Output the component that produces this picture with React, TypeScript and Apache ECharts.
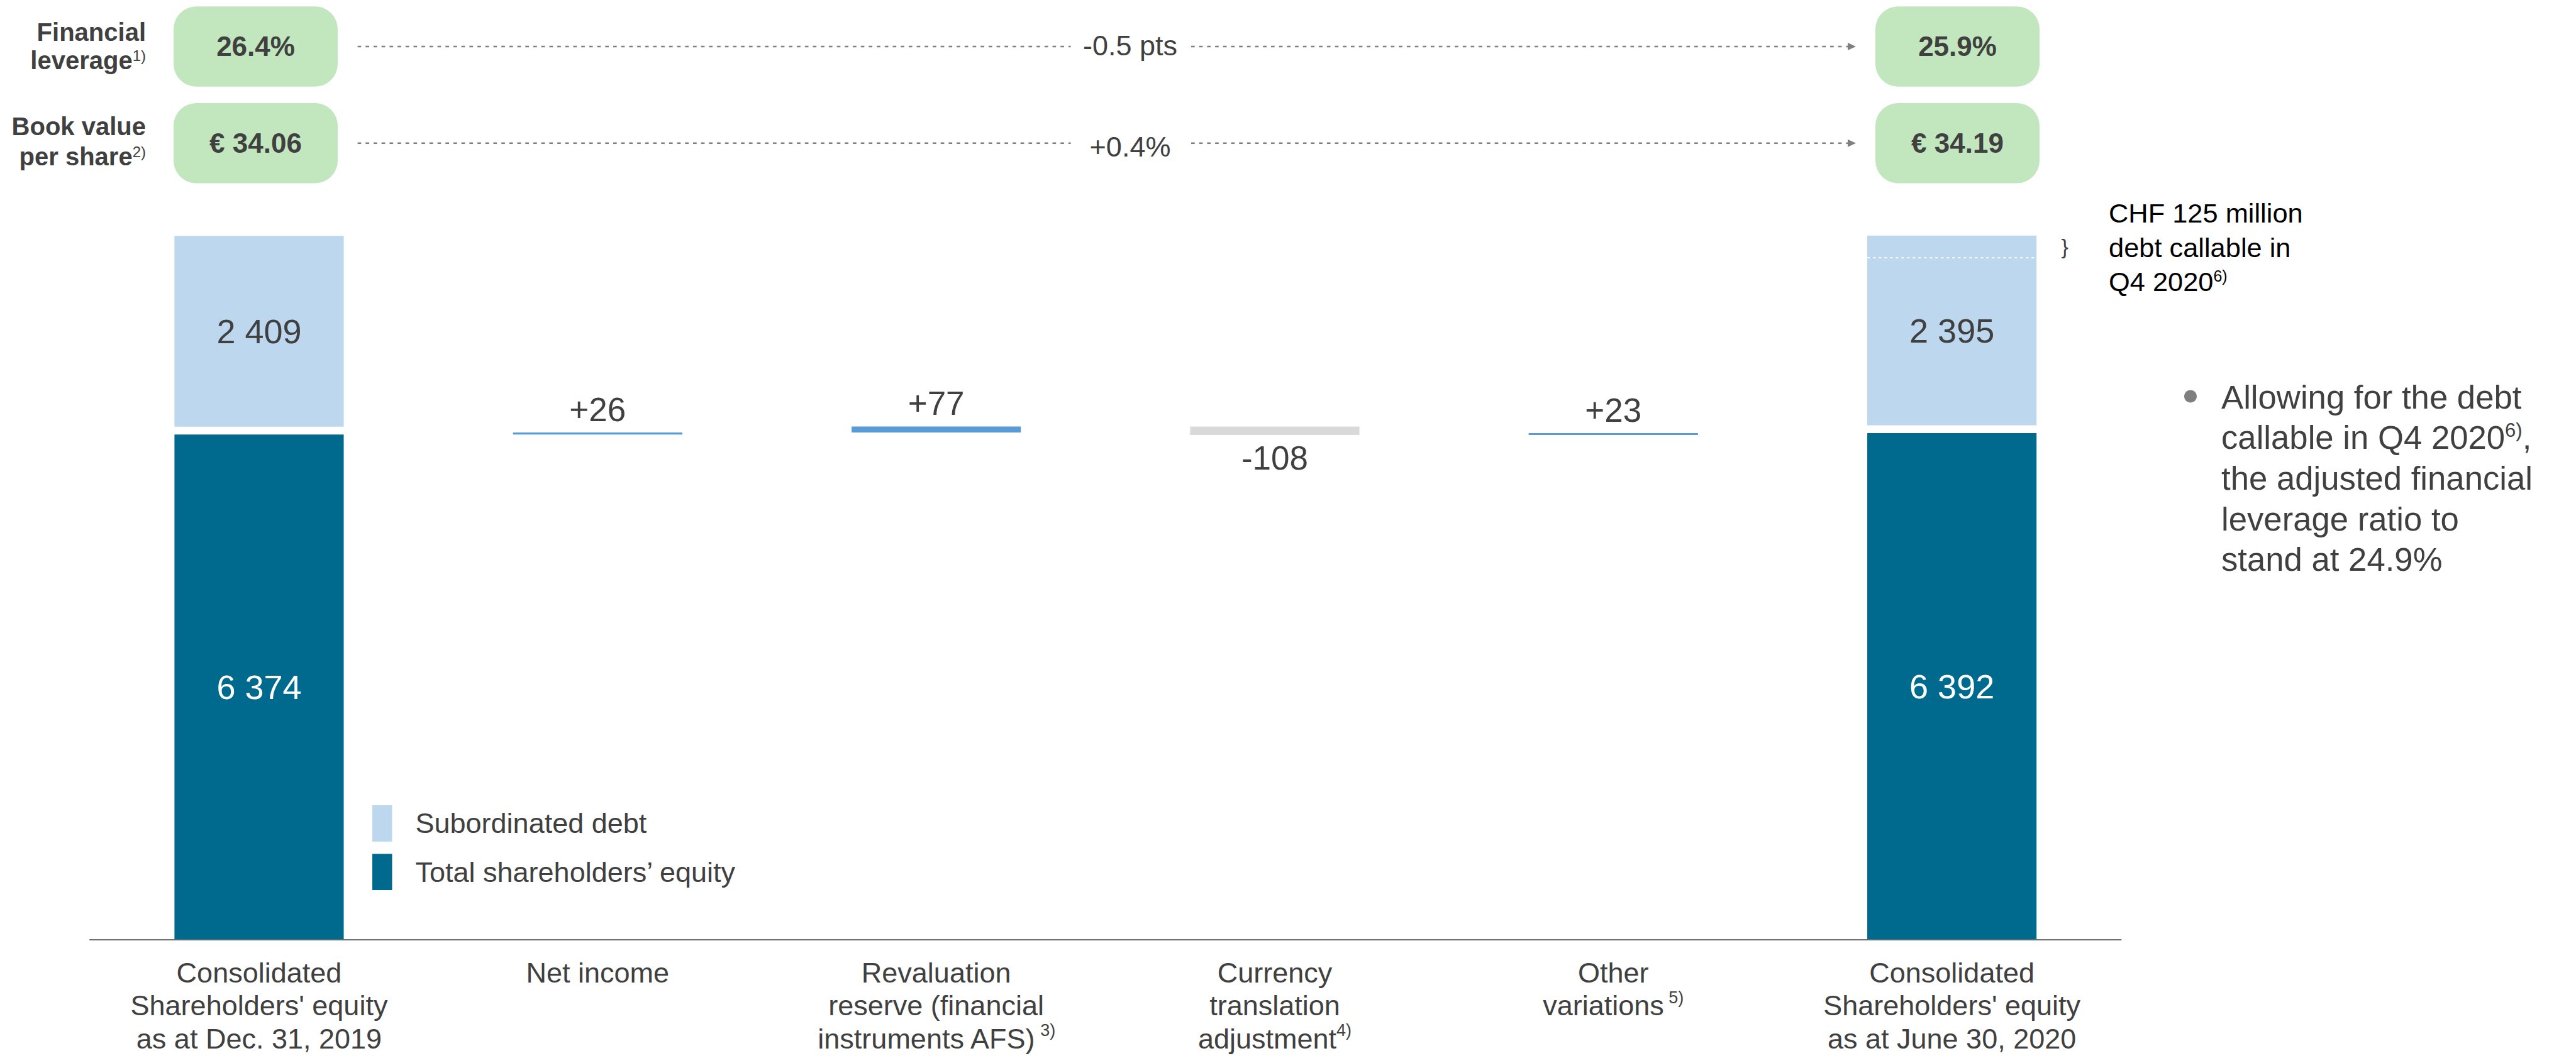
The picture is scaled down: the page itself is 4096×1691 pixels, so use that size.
import React, { useEffect, useRef } from 'react';
import * as echarts from 'echarts';

// ---- data (EUR million) ----
const categories = [
  "Consolidated\nShareholders' equity\nas at Dec. 31, 2019",
  'Net income',
  'Revaluation\nreserve (financial\ninstruments AFS)',
  'Currency\ntranslation\nadjustment',
  'Other\nvariations',
  "Consolidated\nShareholders' equity\nas at June 30, 2020",
];
const categoryNotes = ['', '', ' 3)', '4)', ' 5)', ''];

const equityValues = [6374, null, null, null, null, 6392];
const debtValues = [2409, null, null, null, null, 2395];
const changeValues = [null, 26, 77, -108, 23, null];

const debtName = 'Subordinated debt';
const equityName = 'Total shareholders\u2019 equity';

// headline ratios
const kpiTitles = [
  ['Financial', 'leverage'],
  ['Book value', 'per share'],
];
const kpiNotes = ['1)', '2)'];
const kpiOpening = ['26.4%', '\u20ac 34.06'];
const kpiClosing = ['25.9%', '\u20ac 34.19'];
const kpiDelta = ['-0.5 pts', '+0.4%'];

// side notes
const calloutLines = ['CHF 125 million', 'debt callable in', 'Q4 2020'];
const calloutNote = '6)';
const bulletLines = [
  'Allowing for the debt',
  'callable in Q4 2020',
  'the adjusted financial',
  'leverage ratio to',
  'stand at 24.9%',
];
// portion of the closing debt block marked as callable (axis units)
const callablePortion = 280;

// ---- styling ----
const FONT = '"Liberation Sans", Arial, Helvetica, sans-serif';
const TEXT = '#404040';
const DARK = '#006a8e';
const LIGHT = '#bdd7ee';
const UP = '#5b9bd5';
const DOWN = '#d9d9d9';
const PILL = '#c2e7bf';
const DASH = '#7f7f7f';
const STACK_GAP = 100; // white gap between the equity and debt blocks
const Y_MAX = 10000;

const fmt = (v: number) => String(v).replace(/\B(?=(\d{3})+(?!\d))/g, ' ');

function buildWaterfall() {
  const bases: any[] = [];
  const deltas: any[] = [];
  let running = equityValues[0] as number;
  changeValues.forEach((c) => {
    if (c == null) {
      bases.push('-');
      deltas.push('-');
      return;
    }
    bases.push(c >= 0 ? running : running + c);
    deltas.push({
      value: Math.abs(c),
      change: c,
      itemStyle: { color: c >= 0 ? UP : DOWN },
      label: { position: c >= 0 ? 'top' : 'bottom' },
    });
    running += c;
  });
  return { bases, deltas };
}

function txt(x: number, y: number, text: string, extra: any = {}, rich?: any) {
  const align = extra.align || 'left';
  const style: any = {
    text,
    x: 0,
    y: 0,
    fill: extra.fill || TEXT,
    fontFamily: FONT,
    fontSize: extra.fontSize || 45,
    fontWeight: extra.fontWeight || 'normal',
    align,
    textAlign: align,
    verticalAlign: 'middle',
    textVerticalAlign: 'middle',
  };
  if (rich) style.rich = rich;
  return { type: 'text', x, y, z: 50, silent: true, style };
}

function staticGraphics() {
  const g: any[] = [];
  const pillTops = [10.2, 164];
  const pillH = 127.5;
  const titleY = [
    [50.7, 96],
    [200.6, 249],
  ];
  const deltaY = [72.7, 233];
  const supRich = (size: number, lh: number, fill = TEXT) => ({
    sup: { fontSize: size, lineHeight: lh, verticalAlign: 'top', fill, fontFamily: FONT },
  });

  kpiTitles.forEach((lines, i) => {
    const top = pillTops[i];
    const cy = top + pillH / 2;
    g.push(txt(232, titleY[i][0], lines[0], { align: 'right', fontSize: 40, fontWeight: 'bold' }));
    g.push(
      txt(
        232,
        titleY[i][1],
        `${lines[1]}{sup|${kpiNotes[i]}}`,
        { align: 'right', fontSize: 40, fontWeight: 'bold' },
        supRich(24, 24)
      )
    );
    // value pills
    [
      [276, kpiOpening[i]],
      [2982, kpiClosing[i]],
    ].forEach(([x, label]) => {
      g.push({
        type: 'rect',
        z: 40,
        silent: true,
        shape: { x: x as number, y: top, width: 261, height: pillH, r: 36 },
        style: { fill: PILL },
      });
      g.push(
        txt((x as number) + 130.5, cy, label as string, {
          align: 'center',
          fontSize: 44,
          fontWeight: 'bold',
        })
      );
    });
    // dotted connector with arrow
    const lineStyle = { stroke: DASH, lineWidth: 2.5, lineDash: [5.7, 7] };
    g.push({ type: 'line', z: 40, silent: true, shape: { x1: 568.6, y1: cy, x2: 1702.6, y2: cy }, style: lineStyle });
    g.push({ type: 'line', z: 40, silent: true, shape: { x1: 1894, y1: cy, x2: 2939, y2: cy }, style: lineStyle });
    g.push({
      type: 'polygon',
      z: 40,
      silent: true,
      shape: { points: [[2938, cy - 6], [2951, cy], [2938, cy + 6]] },
      style: { fill: DASH },
    });
    g.push(txt(1797, deltaY[i], kpiDelta[i], { align: 'center', fontSize: 45 }));
  });

  // callable-debt callout
  const calloutY = [339.4, 394.4, 448.2];
  calloutLines.forEach((line, i) => {
    const last = i === calloutLines.length - 1;
    g.push(
      txt(3353, calloutY[i], last ? `${line}{sup|${calloutNote}}` : line, { fontSize: 43.4, fill: '#000000' }, last ? supRich(25, 25, '#000000') : undefined)
    );
  });

  // bullet comment
  g.push({ type: 'circle', z: 40, silent: true, shape: { cx: 3483, cy: 630.4, r: 10 }, style: { fill: '#7f7f7f' } });
  const bulletY = [631.3, 695.9, 760.5, 825.1, 889.7];
  bulletLines.forEach((line, i) => {
    const withNote = i === 1;
    g.push(
      txt(3532, bulletY[i], withNote ? `${line}{sup|6)}{plain|,}` : line, { fontSize: 52.7 }, withNote
        ? { ...supRich(31, 31), plain: { fontSize: 52.7, fill: TEXT, fontFamily: FONT } }
        : undefined)
    );
  });
  return g;
}

function buildOption() {
  const { bases, deltas } = buildWaterfall();
  const barCommon = { type: 'bar', stack: 'all', barWidth: '50%', silent: true };
  return {
    animation: false,
    backgroundColor: '#ffffff',
    textStyle: { fontFamily: FONT },
    grid: { left: 142.8, top: 234.6, width: 3230, height: 1259.7, containLabel: false, outerBoundsMode: 'none' },
    legend: {
      data: [debtName, equityName],
      orient: 'vertical',
      left: 587,
      top: 1276,
      icon: 'rect',
      itemWidth: 31.5,
      itemHeight: 57.8,
      itemGap: 19.5,
      selectedMode: false,
      textStyle: { fontSize: 45, color: TEXT, fontFamily: FONT, padding: [0, 0, 0, 32] },
    },
    xAxis: {
      type: 'category',
      data: categories,
      axisLine: { show: true, lineStyle: { color: '#404040', width: 1.5 } },
      axisTick: { show: false },
      splitLine: { show: false },
      axisLabel: {
        interval: 0,
        margin: 27,
        color: TEXT,
        fontSize: 45,
        lineHeight: 52.3,
        fontFamily: FONT,
        formatter: (v: string, i: number) => (categoryNotes[i] ? `${v}{sup|${categoryNotes[i]}}` : v),
        rich: {
          sup: { fontSize: 27, lineHeight: 40, verticalAlign: 'top', color: TEXT, fontFamily: FONT },
        },
      },
    },
    yAxis: { type: 'value', min: 0, max: Y_MAX, show: false, splitLine: { show: false } },
    series: [
      {
        ...barCommon,
        name: equityName,
        data: equityValues.map((v) => (v == null ? '-' : v)),
        itemStyle: { color: DARK },
        label: {
          show: true,
          position: 'inside',
          color: '#ffffff',
          fontSize: 54,
          fontFamily: FONT,
          formatter: (p: any) => fmt(p.value),
        },
      },
      {
        ...barCommon,
        name: 'spacer',
        data: equityValues.map((v) => (v == null ? '-' : STACK_GAP)),
        itemStyle: { color: 'rgba(0,0,0,0)' },
      },
      {
        ...barCommon,
        name: debtName,
        data: debtValues.map((v) => (v == null ? '-' : v)),
        itemStyle: { color: LIGHT },
        label: {
          show: true,
          position: 'inside',
          color: TEXT,
          fontSize: 54,
          fontFamily: FONT,
          formatter: (p: any) => fmt(p.value),
        },
      },
      {
        ...barCommon,
        name: 'base',
        data: bases,
        itemStyle: { color: 'rgba(0,0,0,0)' },
      },
      {
        ...barCommon,
        name: 'change',
        data: deltas,
        label: {
          show: true,
          distance: 10,
          color: TEXT,
          fontSize: 53,
          fontFamily: FONT,
          formatter: (p: any) => {
            const c = p.data.change;
            return c > 0 ? `+${c}` : `${c}`;
          },
        },
      },
    ],
  };
}

export default function App() {
  const ref = useRef<HTMLDivElement>(null);

  useEffect(() => {
    const el = ref.current;
    if (!el) return;
    const chart = echarts.init(el, null, { renderer: 'svg' });
    chart.setOption(buildOption() as any);

    // divider inside the closing debt block, placed through the axes
    const last = categories.length - 1;
    const topVal = (equityValues[last] as number) + STACK_GAP + (debtValues[last] as number);
    const p0 = chart.convertToPixel({ gridIndex: 0 }, [0, 0]) as number[];
    const p1 = chart.convertToPixel({ gridIndex: 0 }, [1, 0]) as number[];
    const band = p1[0] - p0[0];
    const [xc, yTop] = chart.convertToPixel({ gridIndex: 0 }, [last, topVal]) as number[];
    const [, yCall] = chart.convertToPixel({ gridIndex: 0 }, [last, topVal - callablePortion]) as number[];
    const half = band * 0.25;

    const graphics = staticGraphics();
    graphics.push({
      type: 'line',
      z: 100,
      silent: true,
      shape: { x1: xc - half, y1: yCall, x2: xc + half, y2: yCall },
      style: { stroke: '#ffffff', lineWidth: 1.7, lineDash: [4.5, 4.5] },
    });
    graphics.push(txt(xc + half + 45, (yTop + yCall) / 2, '}', { align: 'center', fontSize: 34 }));

    chart.setOption({ graphic: graphics } as any);
    return () => chart.dispose();
  }, []);

  return (
    <div
      ref={ref}
      style={{ position: 'fixed', left: 0, top: 0, width: 4096, height: 1691, background: '#ffffff' }}
    />
  );
}
